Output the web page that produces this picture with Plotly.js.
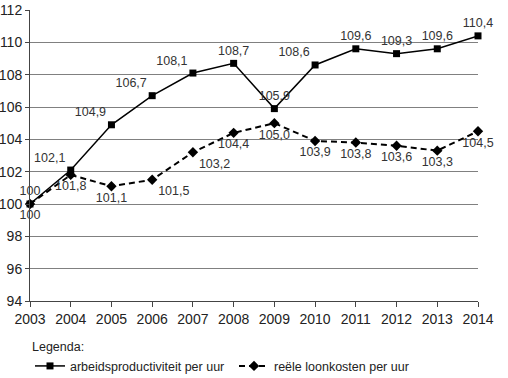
<!DOCTYPE html>
<html>
<head>
<meta charset="utf-8">
<script src="https://cdn.plot.ly/plotly-3.0.1.min.js"></script>
<style>html,body{margin:0;padding:0;background:#fff;}#chart{width:508px;height:378px;}</style>
</head>
<body>
<div id="chart"></div>
<script>
var years = [2003, 2004, 2005, 2006, 2007, 2008, 2009, 2010, 2011, 2012, 2013, 2014];
var productiviteit = [100, 102.1, 104.9, 106.7, 108.1, 108.7, 105.9, 108.6, 109.6, 109.3, 109.6, 110.4];
var loonkosten = [100, 101.8, 101.1, 101.5, 103.2, 104.4, 105.0, 103.9, 103.8, 103.6, 103.3, 104.5];
var prodLabels = ["100", "102,1", "104,9", "106,7", "108,1", "108,7", "105,9", "108,6", "109,6", "109,3", "109,6", "110,4"];
var loonLabels = ["100", "101,8", "101,1", "101,5", "103,2", "104,4", "105,0", "103,9", "103,8", "103,6", "103,3", "104,5"];
var yTicks = [94, 96, 98, 100, 102, 104, 106, 108, 110, 112];

var prodPos = ["bottom center", "top left", "top left", "top left", "top left", "top center", "top center", "top left", "top center", "top center", "top center", "top center"];
var loonPos = ["top center", "bottom center", "bottom center", "bottom right", "bottom right", "bottom center", "bottom center", "bottom center", "bottom center", "bottom center", "bottom center", "bottom center"];

var txtFont = {family: "Liberation Sans, Arial, sans-serif", size: 12.5, color: "#333"};

var traces = [
  {
    x: years, y: productiviteit, type: "scatter", mode: "lines+markers+text",
    name: "arbeidsproductiviteit per uur",
    line: {color: "#000", width: 1.5},
    marker: {symbol: "square", size: 7, color: "#000"},
    text: prodLabels, textposition: prodPos, textfont: txtFont,
    cliponaxis: false
  },
  {
    x: years, y: loonkosten, type: "scatter", mode: "lines+markers+text",
    name: "reële loonkosten per uur",
    line: {color: "#000", width: 2, dash: "6px,4px"},
    marker: {symbol: "diamond", size: 8, color: "#000"},
    text: loonLabels, textposition: loonPos, textfont: txtFont,
    cliponaxis: false
  }
];

var layout = {
  width: 508, height: 378,
  margin: {l: 30, r: 30, t: 10, b: 77, autoexpand: false},
  paper_bgcolor: "#fff", plot_bgcolor: "#fff",
  font: {family: "Liberation Sans, Arial, sans-serif", color: "#222", size: 14},
  showlegend: true,
  xaxis: {
    range: [2003, 2014], tickvals: years, ticktext: years.map(String),
    showgrid: false, zeroline: false,
    showline: true, linecolor: "#444", linewidth: 1,
    ticks: "outside", ticklen: 5, tickcolor: "#444",
    tickfont: {size: 14, color: "#222"}
  },
  yaxis: {
    range: [94, 112], tickvals: yTicks, ticktext: yTicks.map(String),
    showgrid: true, gridcolor: "#808080", gridwidth: 1,
    zeroline: false,
    showline: true, linecolor: "#444", linewidth: 1,
    ticks: "outside", ticklen: 4, tickcolor: "#444",
    tickfont: {size: 14, color: "#222"}
  },
  legend: {
    orientation: "h", x: 0, xanchor: "left", y: -0.117, yanchor: "top",
    title: {text: "Legenda:", side: "top", font: {size: 12.5, color: "#222"}},
    font: {size: 12.5, color: "#222"},
    itemwidth: 30, entrywidth: 159, entrywidthmode: "pixels",
    bgcolor: "rgba(0,0,0,0)"
  }
};

Plotly.newPlot("chart", traces, layout, {staticPlot: true, displayModeBar: false});
</script>
</body>
</html>
